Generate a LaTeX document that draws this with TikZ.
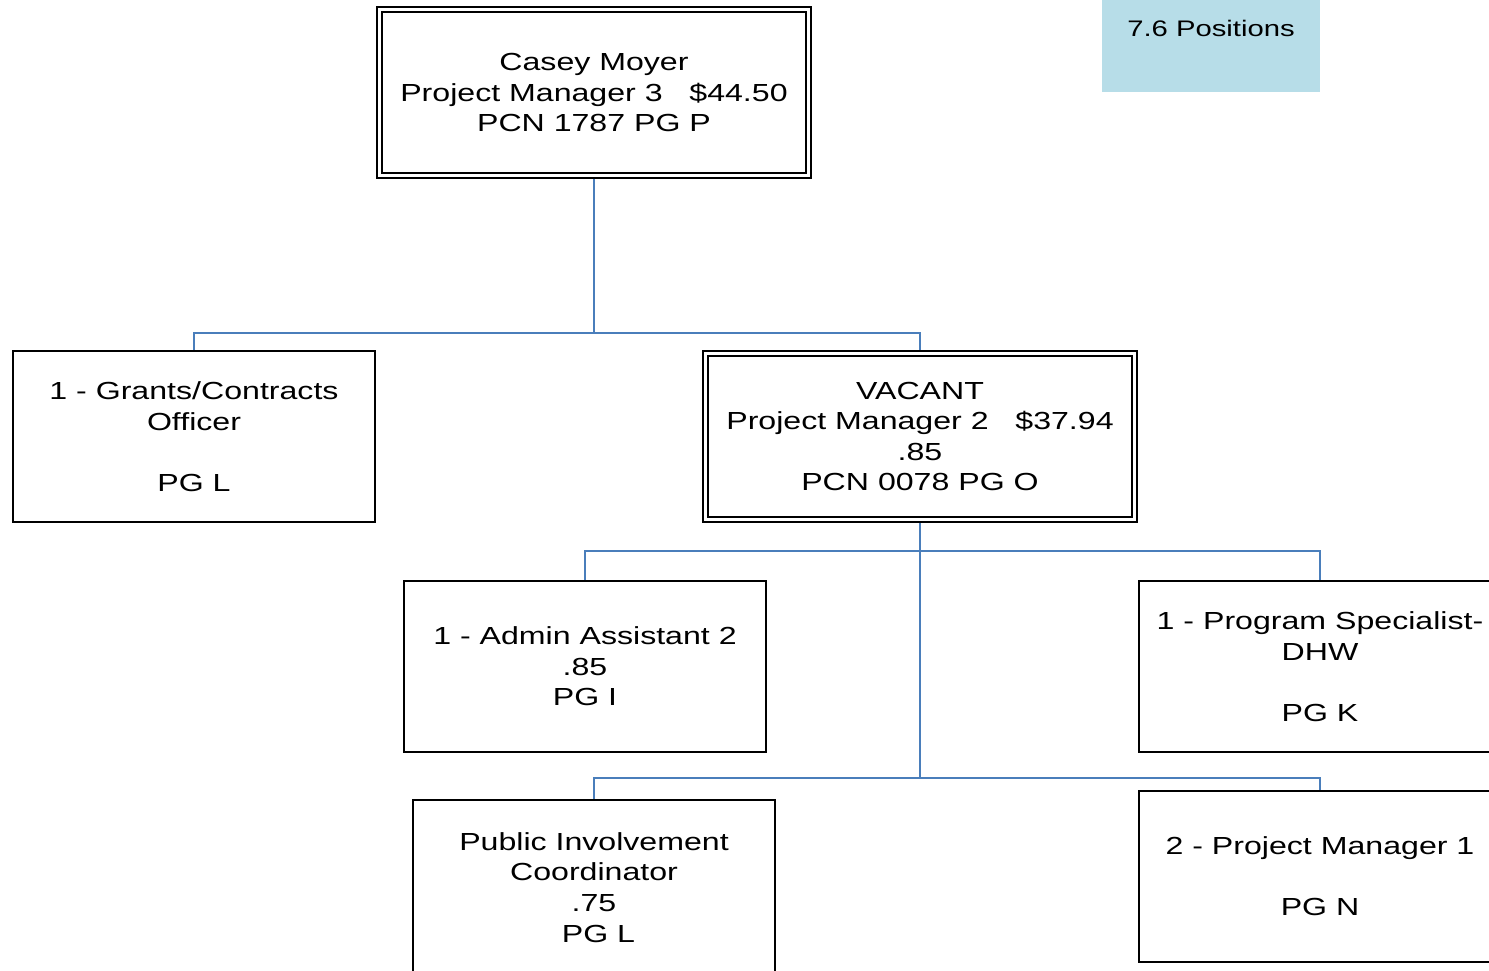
\documentclass[tikz,border=0pt]{standalone}
\usepackage{fontspec}
\setmainfont{Liberation Sans}
\newfontfamily\boxfont{Liberation Sans}[FakeStretch=1.3]
\usetikzlibrary{backgrounds}
\definecolor{linkblue}{HTML}{4A7EBB}
\definecolor{notefill}{HTML}{B7DDE8}
\tikzset{
  orgbox/.style={draw=black, line width=2pt, fill=white, inner sep=0pt,
    minimum width=362pt, minimum height=171pt, align=center,
    font=\boxfont\fontsize{24.7}{30.6}\selectfont},
  headbox/.style={draw=black, double=white, double distance=3pt, line width=2pt,
    fill=white, inner sep=0pt, minimum width=429pt, minimum height=166pt,
    align=center, font=\boxfont\fontsize{24.7}{30.6}\selectfont},
  notebox/.style={fill=notefill, draw=none, inner sep=0pt, minimum width=218pt,
    minimum height=92pt, align=center,
    font=\boxfont\fontsize{22.5}{30.6}\selectfont},
  link/.style={draw=linkblue, line width=2.6pt}
}
\begin{document}
\begin{tikzpicture}[x=1pt, y=-1pt]
\useasboundingbox (0,0) rectangle (1489,970);
\clip (0,0) rectangle (1489,970);

% headcount note
\node[notebox] (positions) at (1211,46) {\raisebox{-5pt}{7.6 Positions}\\\strut};

% top level
\node[headbox] (casey) at (594,92.5)
  {Casey Moyer\\Project Manager 3\ \ \ \$44.50\\PCN 1787 PG P};

% second level
\node[orgbox] (grants) at (194,436.5)
  {1 - Grants/Contracts\\Officer\\\strut\\PG L};
\node[headbox] (vacant) at (920,436.5)
  {VACANT\\Project Manager 2\ \ \ \$37.94\\.85\\PCN 0078 PG O};

% third level
\node[orgbox] (admin) at (585,666.5)
  {1 - Admin Assistant 2\\.85\\PG I};
\node[orgbox] (progspec) at (1320,666.5)
  {1 - Program Specialist-\\DHW\\\strut\\PG K};

% fourth level (runs past the lower edge)
\node[orgbox, minimum height=180pt] (pubinv) at (594,890)
  {\raisebox{9pt}{\begin{tabular}{@{}c@{}}Public Involvement\\Coordinator\\.75\\\mbox{}\ PG L\end{tabular}}};
\node[orgbox] (pm1) at (1320,876.5)
  {2 - Project Manager 1\\\strut\\PG N};

% bus levels
\coordinate (busA) at (0,333);
\coordinate (busB) at (0,551);
\coordinate (busC) at (0,778);

\begin{scope}[on background layer]
  \draw[link] (casey.south) -- (casey.south |- busA) -| (grants.north);
  \draw[link] (casey.south |- busA) -| (vacant.north);
  \draw[link] (vacant.south) -- (vacant.south |- busC) -| (pubinv.north);
  \draw[link] (vacant.south |- busC) -| (pm1.north);
  \draw[link] (vacant.south |- busB) -| (admin.north);
  \draw[link] (vacant.south |- busB) -| (progspec.north);
\end{scope}
\end{tikzpicture}
\end{document}
